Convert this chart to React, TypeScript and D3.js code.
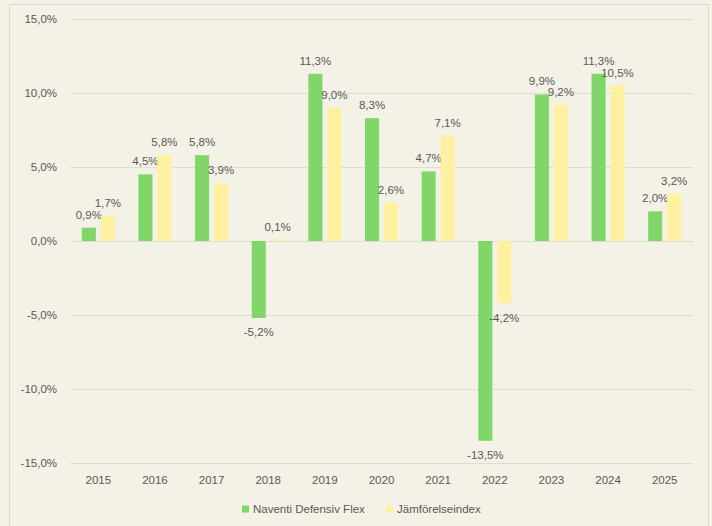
import React from "react";
import * as d3 from "d3";

const years = ["2015","2016","2017","2018","2019","2020","2021","2022","2023","2024","2025"];
const fundValues = [0.9, 4.5, 5.8, -5.2, 11.3, 8.3, 4.7, -13.5, 9.9, 11.3, 2.0];
const indexValues = [1.7, 5.8, 3.9, 0.1, 9.0, 2.6, 7.1, -4.2, 9.2, 10.5, 3.2];
const yTicks = [-15, -10, -5, 0, 5, 10, 15];
const seriesNames = ["Naventi Defensiv Flex", "Jämförelseindex"];
const seriesColors = ["#80D669", "#FFF1A1"];

const W = 712, H = 526;
const FONT = "'Liberation Sans', Arial, sans-serif";
const TXT = "#595959";

const fmt = (v: number) => v.toFixed(1).replace(".", ",") + "%";

export default function App() {
  const x = d3.scaleBand<string>().domain(years).range([70, 693]).paddingInner(0).paddingOuter(0);
  const y = d3.scaleLinear().domain([-15, 15]).range([463, 19]);
  const sub = d3.scaleBand<number>().domain([0, 1]).range([x.bandwidth() / 2 - 16.5, x.bandwidth() / 2 + 16.5]).paddingInner(0.26).paddingOuter(0);
  const series = [fundValues, indexValues];

  return (
    <div style={{ position: "absolute", left: 0, top: 0 }}>
      <svg width={W} height={H} style={{ display: "block", background: "#F4F1E6" }}>
        <rect x={0} y={0} width={W} height={H} fill="#F4F1E6" />
        <rect x={9.5} y={4.5} width={699} height={H + 10} fill="none" stroke="#D9D9D9" strokeWidth={1} />
        {yTicks.map((t) => (
          <g key={t}>
            <line x1={70} x2={693} y1={Math.round(y(t)) + 0.5} y2={Math.round(y(t)) + 0.5} stroke="#DEDCD6" strokeWidth={1.2} />
            <text x={57} y={y(t) + 4} textAnchor="end" fontFamily={FONT} fontSize={11.5} fill={TXT}>{fmt(t)}</text>
          </g>
        ))}
        {years.map((yr, i) => (
          <g key={yr} transform={`translate(${x(yr)},0)`}>
            {series.map((vals, s) => {
              const v = vals[i];
              const bx = sub(s)!;
              const bw = sub.bandwidth();
              const top = y(Math.max(0, v));
              const bot = y(Math.min(0, v));
              const ly = v >= 0 ? top - 9 : bot + 18.5;
              return (
                <g key={s}>
                  <rect x={bx} y={top} width={bw} height={Math.max(0, bot - top)} fill={seriesColors[s]} />
                  <text x={bx + bw / 2} y={ly} textAnchor="middle" fontFamily={FONT} fontSize={11.5} fill={TXT}>{fmt(v)}</text>
                </g>
              );
            })}
            <text x={x.bandwidth() / 2} y={484} textAnchor="middle" fontFamily={FONT} fontSize={11.5} fill={TXT}>{yr}</text>
          </g>
        ))}
        {seriesNames.map((n, s) => {
          const lx = s === 0 ? 242 : 386;
          return (
            <g key={n}>
              <rect x={lx} y={505.5} width={7} height={7} fill={seriesColors[s]} />
              <text x={lx + 11} y={513} fontFamily={FONT} fontSize={11.5} fill={TXT}>{n}</text>
            </g>
          );
        })}
      </svg>
    </div>
  );
}
